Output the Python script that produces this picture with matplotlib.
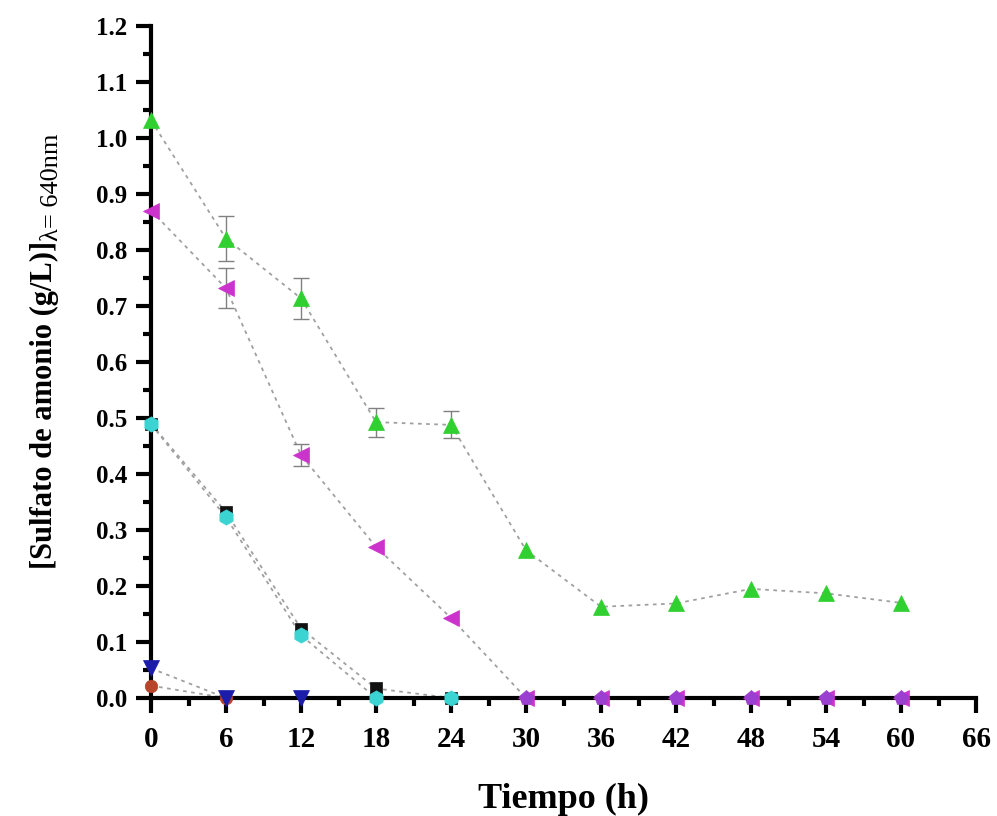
import matplotlib
matplotlib.use("Agg")
import matplotlib.pyplot as plt
from matplotlib.ticker import MultipleLocator

plt.rcParams['font.family'] = ['Liberation Serif', 'DejaVu Serif']
plt.rcParams['mathtext.fontset'] = 'stix'

# ---- data ----
t_black = [0, 6, 12, 18, 24]
y_black = [0.49, 0.332, 0.124, 0.017, 0.0]

t_cyan = [0, 6, 12, 18, 24]
y_cyan = [0.489, 0.323, 0.112, 0.0, 0.0]

t_red = [0, 6]
y_red = [0.022, 0.0]

t_blue = [0, 6, 12]
y_blue = [0.053, 0.0, 0.0]

t_mag = [0, 6, 12, 18, 24, 30, 36, 42, 48, 54, 60]
y_mag = [0.871, 0.732, 0.434, 0.27, 0.143, 0.0, 0.0, 0.0, 0.0, 0.0, 0.0]
e_mag = [0.0, 0.036, 0.02, 0, 0, 0, 0, 0, 0, 0, 0]

t_purple = [30, 36, 42, 48, 54, 60]
y_purple = [0.0, 0.0, 0.0, 0.0, 0.0, 0.0]

t_green = [0, 6, 12, 18, 24, 30, 36, 42, 48, 54, 60]
y_green = [1.032, 0.821, 0.714, 0.493, 0.488, 0.264, 0.163, 0.169, 0.195, 0.187, 0.17]
e_green = [0, 0.04, 0.036, 0.026, 0.024, 0, 0, 0, 0, 0, 0]

x_ticks = [0, 6, 12, 18, 24, 30, 36, 42, 48, 54, 60, 66]
y_ticks = [0.0, 0.1, 0.2, 0.3, 0.4, 0.5, 0.6, 0.7, 0.8, 0.9, 1.0, 1.1, 1.2]

fig = plt.figure(figsize=(9.97, 8.16), dpi=100)
ax = fig.add_axes([0.1515, 0.1446, 0.8275, 0.823])

line_kw = dict(color='#a0a0a0', linestyle=(0, (2, 2.5)), linewidth=1.3, zorder=1)
ax.plot(t_green, y_green, **line_kw)
ax.plot(t_mag, y_mag, **line_kw)
ax.plot(t_black, y_black, **line_kw)
ax.plot(t_cyan, y_cyan, **line_kw)
ax.plot(t_red, y_red, **line_kw)
ax.plot(t_blue, y_blue, **line_kw)

err_kw = dict(fmt='none', ecolor='#808080', elinewidth=1.0, capsize=6, capthick=1.0, zorder=2)
ax.errorbar([t for t, e in zip(t_green, e_green) if e > 0],
            [y for y, e in zip(y_green, e_green) if e > 0],
            yerr=[e for e in e_green if e > 0], **err_kw)
ax.errorbar([t for t, e in zip(t_mag, e_mag) if e > 0],
            [y for y, e in zip(y_mag, e_mag) if e > 0],
            yerr=[e for e in e_mag if e > 0], **err_kw)

mk = dict(linestyle='none', clip_on=False, zorder=5, markeredgewidth=0.5)
ax.plot(t_black, y_black, marker='s', ms=9, color='#111111', **mk)
ax.plot(t_cyan, y_cyan, marker='h', ms=11, color='#3cd3d3', **mk)
ax.plot(t_red, y_red, marker='o', ms=9, color='#b8442a', **mk)
ax.plot(t_blue, y_blue, marker='v', ms=11, color='#1c1caa', **mk)
ax.plot(t_mag, y_mag, marker='<', ms=11, color='#cc33cc', **mk)
ax.plot(t_purple, y_purple, marker='p', ms=11, color='#9b3fd0', **mk)
ax.plot(t_green, y_green, marker='^', ms=11, color='#2fd02f', **mk)

ax.set_xlim(0, 66)
ax.set_ylim(0, 1.2)
ax.set_xticks(x_ticks)
ax.set_yticks(y_ticks)
ax.set_xticklabels([str(v) for v in x_ticks])
ax.set_yticklabels([f"{v:.1f}" for v in y_ticks])
ax.xaxis.set_minor_locator(MultipleLocator(3))
ax.yaxis.set_minor_locator(MultipleLocator(0.05))

for s in ['top', 'right']:
    ax.spines[s].set_visible(False)
for s in ['left', 'bottom']:
    ax.spines[s].set_linewidth(3)
ax.tick_params(which='major', direction='out', length=11, width=3, pad=6)
ax.tick_params(which='minor', direction='out', length=6, width=3)
ax.tick_params(axis='y', which='major', labelsize=18)
ax.tick_params(axis='x', which='major', labelsize=21, pad=9)
for lab in ax.get_xticklabels() + ax.get_yticklabels():
    lab.set_fontweight('bold')

ax.set_xlabel('Tiempo (h)', fontsize=26, fontweight='bold', labelpad=22)

fig.text(44 / 997, 1 - 405 / 816, '[Sulfato de amonio (g/L)]', rotation=90,
         ha='center', va='center', fontsize=22, fontweight='bold')
fig.text(52 / 997, 1 - 187 / 816, 'λ= 640nm', rotation=90,
         ha='center', va='center', fontsize=19)

fig.savefig('out.png', dpi=100)
